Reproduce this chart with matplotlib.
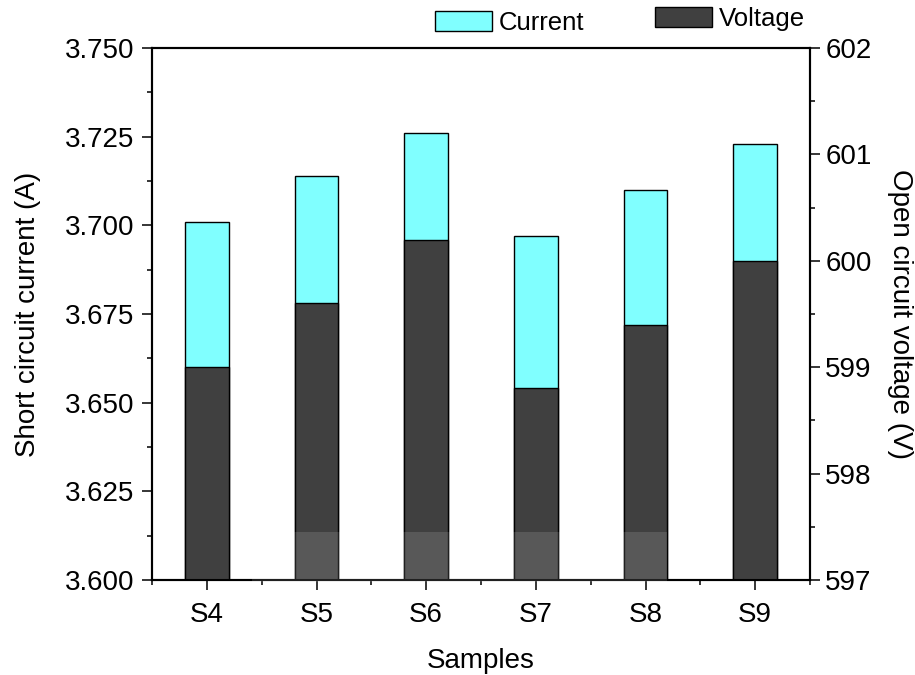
import matplotlib
matplotlib.use("Agg")
import matplotlib.pyplot as plt
from matplotlib.patches import Rectangle
from matplotlib.ticker import MultipleLocator, FixedLocator, FormatStrFormatter

samples = ["S4", "S5", "S6", "S7", "S8", "S9"]
current = [3.701, 3.714, 3.726, 3.697, 3.710, 3.723]   # A
voltage = [599.0, 599.6, 600.2, 598.8, 599.4, 600.0]   # V

plt.rcParams['font.family'] = ['Liberation Sans', 'DejaVu Sans']
FS = 20
LFS = 18.5

fig = plt.figure(figsize=(9.15, 6.75), dpi=100)
W, H = 915, 675
ax = fig.add_axes([152 / W, 1 - 580 / H, (810 - 152) / W, (580 - 48) / H])
ax2 = ax.twinx()

x = list(range(len(samples)))
b1 = ax.bar(x, current, width=0.4, color='#80ffff', edgecolor='black',
            linewidth=1.0, label='Current')
b2 = ax2.bar(x, voltage, width=0.4, color='#404040', edgecolor='black',
             linewidth=1.0, label='Voltage')

ax.set_xlim(-0.5, 5.5)
ax.set_ylim(3.600, 3.750)
ax2.set_ylim(597, 602)

ax.set_xticks(x)
ax.set_xticklabels(samples)
ax.xaxis.set_minor_locator(FixedLocator([i - 0.5 for i in range(len(samples) + 1)]))
ax.yaxis.set_major_locator(MultipleLocator(0.025))
ax.yaxis.set_minor_locator(MultipleLocator(0.0125))
ax.yaxis.set_major_formatter(FormatStrFormatter('%.3f'))
ax2.yaxis.set_major_locator(MultipleLocator(1))
ax2.yaxis.set_minor_locator(MultipleLocator(0.5))

for a in (ax, ax2):
    for s in a.spines.values():
        s.set_linewidth(1.5)
    a.tick_params(which='major', direction='out', length=7, width=1.1,
                  labelsize=FS, colors='black')
    a.tick_params(which='minor', direction='out', length=3.5, width=1.1)
ax.tick_params(axis='y', which='major', pad=6)
ax.tick_params(axis='x', which='major', pad=9)
ax2.tick_params(axis='y', which='major', pad=4)

ax.set_xlabel('Samples', fontsize=FS, labelpad=14)
ax.set_ylabel('Short circuit current (A)', fontsize=FS, labelpad=17)
ax2.set_ylabel('Open circuit voltage (V)', fontsize=FS, rotation=270,
               labelpad=30)

# legend entries placed above the plot area
fig.legend(handles=[b1], loc='upper left', bbox_to_anchor=(435 / W, 1 - 11 / H),
           frameon=False, fontsize=LFS, handlelength=2.2, handleheight=0.85,
           handletextpad=0.3, borderpad=0, borderaxespad=0)
fig.legend(handles=[b2], loc='upper left', bbox_to_anchor=(655 / W, 1 - 7 / H),
           frameon=False, fontsize=LFS, handlelength=2.2, handleheight=0.85,
           handletextpad=0.3, borderpad=0, borderaxespad=0)

# light band across the lower middle of the bars
fig.patches.append(Rectangle((252 / W, 1 - 582 / H), (667 - 252) / W, 50 / H,
                             transform=fig.transFigure, facecolor='white',
                             alpha=0.13, edgecolor='none', zorder=10))

fig.savefig('out.png', dpi=100)
